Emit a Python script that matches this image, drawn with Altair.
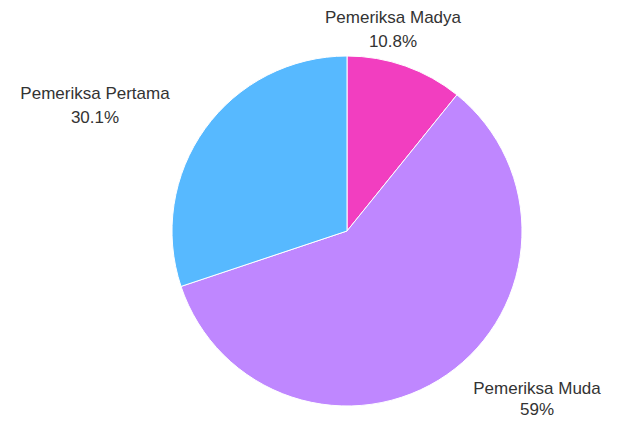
import altair as alt
import pandas as pd

categories = ["Pemeriksa Madya", "Pemeriksa Muda", "Pemeriksa Pertama"]
values = [10.8, 59.0, 30.1]
labels = ["10.8%", "59%", "30.1%"]
colors = ["#f23ec0", "#bf87ff", "#57b9ff"]

df = pd.DataFrame({
    "cat": categories,
    "val": values,
    "lab": labels,
    "ord": [0, 1, 2],
})

cx, cy = 339, 223

pie = alt.Chart(df).mark_arc(radius=175, stroke="white", strokeWidth=1).encode(
    theta=alt.Theta("val:Q", stack=True),
    order=alt.Order("ord:Q"),
    color=alt.Color("cat:N", scale=alt.Scale(domain=categories, range=colors), legend=None),
    x=alt.value(cx),
    y=alt.value(cy),
)

label_pos = {
    "Pemeriksa Madya": (385, 10, 24),
    "Pemeriksa Muda": (529, 381, 21),
    "Pemeriksa Pertama": (87, 86, 24),
}

layers = [pie]
for c, l in zip(categories, labels):
    px, py, lh = label_pos[c]
    t = alt.Chart(df[df.cat == c]).transform_calculate(
        txt="[datum.cat, datum.lab]"
    ).mark_text(
        font="Liberation Sans", fontSize=17, color="#333333",
        lineHeight=lh, baseline="middle", align="center",
    ).encode(
        text="txt:N",
        x=alt.value(px),
        y=alt.value(py),
    )
    layers.append(t)

chart = alt.layer(*layers).properties(
    width=601, height=413, padding=0,
    autosize=alt.AutoSizeParams(type="none"),
).configure_view(stroke=None)

chart.save("out.html", embed_options={"renderer": "svg", "actions": False})
